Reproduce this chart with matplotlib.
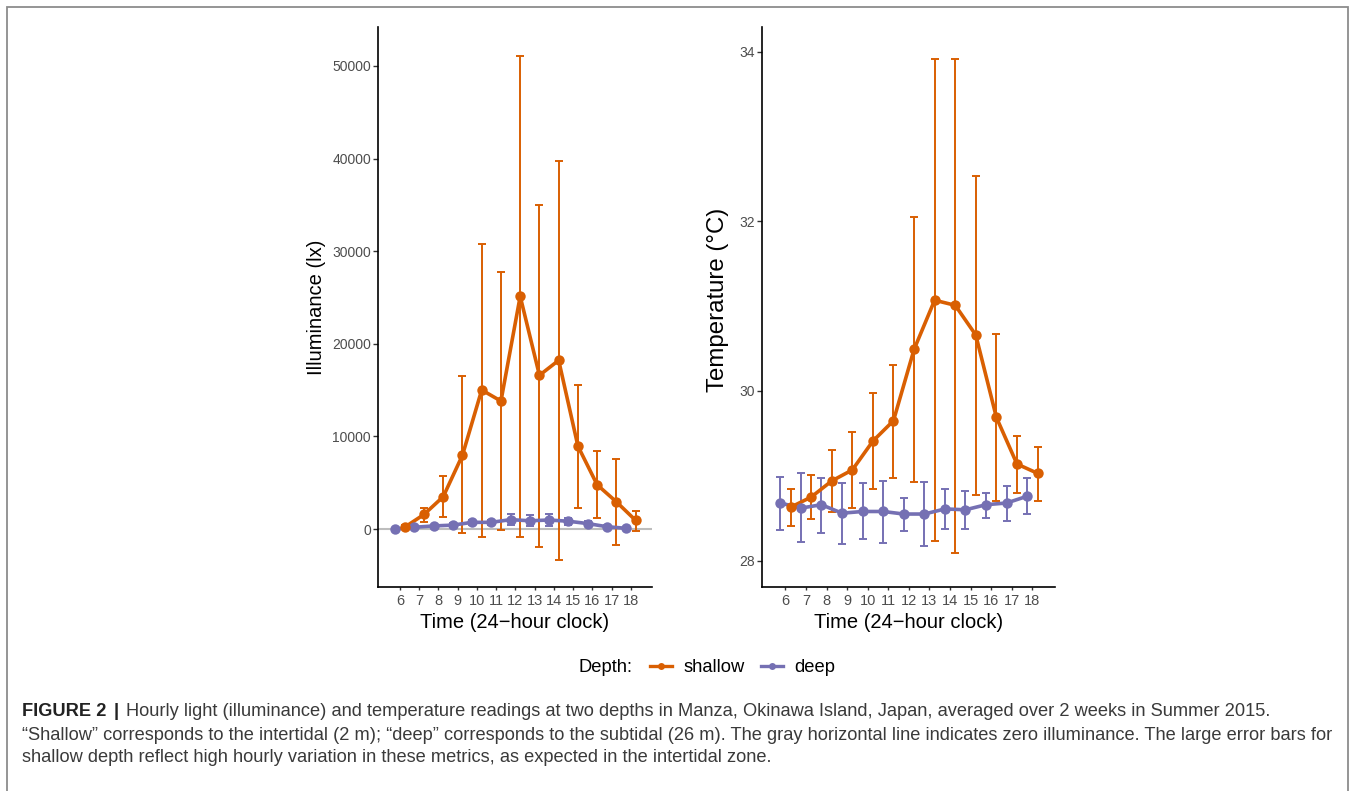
import numpy as np
import matplotlib
matplotlib.use("Agg")
import matplotlib.pyplot as plt
from matplotlib.lines import Line2D
from matplotlib.patches import Rectangle
from matplotlib import font_manager

plt.rcParams['font.family'] = ['Liberation Sans', 'DejaVu Sans']

# hours of the day (24-hour clock)
hours = [6, 7, 8, 9, 10, 11, 12, 13, 14, 15, 16, 17, 18]
hour_labels = [str(h) for h in hours]

# illuminance (lx), mean and error bar ends
lux_shallow = [210, 1580, 3500, 7980, 15020, 13820, 25130, 16600, 18220, 8960, 4780, 2940, 940]
lux_shallow_lo = [0, 725, 1280, -470, -810, -85, -810, -1920, -3330, 2300, 1150, -1700, -210]
lux_shallow_hi = [420, 2300, 5720, 16510, 30760, 27730, 51110, 34980, 39760, 15570, 8450, 7550, 2000]
lux_deep = [0, 200, 340, 430, 730, 730, 1020, 900, 980, 850, 600, 260, 85]
lux_deep_lo = [-30, 100, 190, 230, 480, 480, 470, 300, 380, 470, 350, 110, 35]
lux_deep_hi = [30, 300, 490, 630, 980, 980, 1580, 1490, 1580, 1240, 850, 410, 135]

# temperature (deg C), mean and error bar ends
temp_shallow = [28.63, 28.75, 28.94, 29.07, 29.41, 29.65, 30.49, 31.07, 31.01, 30.66, 29.69, 29.14, 29.03]
temp_shallow_lo = [28.41, 28.49, 28.57, 28.62, 28.85, 28.98, 28.93, 28.23, 28.09, 28.78, 28.70, 28.80, 28.70]
temp_shallow_hi = [28.85, 29.01, 29.31, 29.52, 29.98, 30.31, 32.05, 33.91, 33.91, 32.53, 30.67, 29.47, 29.34]
temp_deep = [28.68, 28.62, 28.66, 28.56, 28.58, 28.58, 28.55, 28.55, 28.61, 28.60, 28.66, 28.68, 28.76]
temp_deep_lo = [28.36, 28.22, 28.33, 28.20, 28.25, 28.21, 28.35, 28.17, 28.37, 28.37, 28.50, 28.47, 28.55]
temp_deep_hi = [28.99, 29.03, 28.97, 28.92, 28.92, 28.94, 28.74, 28.93, 28.84, 28.82, 28.80, 28.88, 28.97]

c_shallow = '#D95F02'
c_deep = '#7570B3'

W, H = 1356, 791
fig = plt.figure(figsize=(W / 100, H / 100), dpi=100)
ax1 = fig.add_axes([378 / W, 1 - 587 / H, 274 / W, 560 / H])
ax2 = fig.add_axes([762 / W, 1 - 587 / H, 293 / W, 560 / H])

x = np.array(hours, dtype=float)


def draw_panel(ax, deep, deep_lo, deep_hi, shal, shal_lo, shal_hi):
    groups = [(x - 0.25, deep, deep_lo, deep_hi, c_deep),
              (x + 0.25, shal, shal_lo, shal_hi, c_shallow)]
    for xs, m, lo, hi, c in groups:
        m = np.array(m)
        err = [m - np.array(lo), np.array(hi) - m]
        ax.errorbar(xs, m, yerr=err, fmt='none', ecolor=c, elinewidth=1.4,
                    capsize=3.2, capthick=1.4, zorder=2)
    for xs, m, lo, hi, c in groups:
        ax.plot(xs, m, color=c, lw=2.6, zorder=3, solid_capstyle='butt')
    for xs, m, lo, hi, c in groups:
        ax.plot(xs, m, 'o', color=c, ms=7.5, mec='none', zorder=4)
    ax.set_xticks(hours)
    ax.set_xticklabels(hour_labels)
    ax.set_xlim(4.86, 19.1)
    for s in ['top', 'right']:
        ax.spines[s].set_visible(False)
    for s in ['left', 'bottom']:
        ax.spines[s].set_linewidth(1.2)
        ax.spines[s].set_color('black')
    ax.tick_params(axis='y', length=3.5, width=1.0, pad=1.5, labelsize=10,
                   labelcolor='#4D4D4D', color='#333333')
    ax.tick_params(axis='x', length=2.5, width=1.0, pad=2.5, labelsize=10.5,
                   labelcolor='#4D4D4D', color='#333333')
    ax.set_xlabel('Time (24\u2212hour clock)', fontsize=14.5)
    ax.xaxis.label.set_va('center')
    ax.xaxis.set_label_coords(0.5, -0.0625)


# zero illuminance reference line
ax1.axhline(0, color='#BDBDBD', lw=1.5, zorder=1)
draw_panel(ax1, lux_deep, lux_deep_lo, lux_deep_hi,
           lux_shallow, lux_shallow_lo, lux_shallow_hi)
ax1.set_ylim(-6250, 54200)
ax1.set_yticks([0, 10000, 20000, 30000, 40000, 50000])
ax1.set_yticklabels(['0', '10000', '20000', '30000', '40000', '50000'])
ax1.set_ylabel('Illuminance (lx)', fontsize=14.5)
ax1.yaxis.label.set_va('center')
ax1.yaxis.set_label_coords((316 - 378) / 274, 0.5)

draw_panel(ax2, temp_deep, temp_deep_lo, temp_deep_hi,
           temp_shallow, temp_shallow_lo, temp_shallow_hi)
ax2.set_ylim(27.69, 34.29)
ax2.set_yticks([28, 30, 32, 34])
ax2.set_ylabel('Temperature (\u00b0C)', fontsize=17.3)
ax2.yaxis.label.set_va('center')
ax2.yaxis.set_label_coords((718 - 762) / 293, 0.512)

# legend along the bottom
fig.text(578 / W, 1 - 668 / H, 'Depth:', fontsize=13.2, va='center', ha='left')
handles = [Line2D([], [], color=c_shallow, lw=2.4, marker='o', ms=5, mec='none'),
           Line2D([], [], color=c_deep, lw=2.4, marker='o', ms=5, mec='none')]
fig.legend(handles, ['shallow', 'deep'], ncol=2, frameon=False, fontsize=13.2,
           loc='center left', bbox_to_anchor=(650 / W, 1 - 668 / H),
           handlelength=1.2, handletextpad=0.65, columnspacing=0.85,
           borderpad=0, borderaxespad=0)

# frame around the figure
fig.add_artist(Rectangle((7 / W, -0.05), (1348 - 7) / W, 1.05 - 7 / H,
                         transform=fig.transFigure, fill=False,
                         edgecolor='#8C8C8C', lw=1.3))

# caption (condensed face if there is one)
try:
    font_manager.findfont('Liberation Sans Narrow', fallback_to_default=False)
    cap_font = ['Liberation Sans Narrow', 'DejaVu Sans']
except Exception:
    cap_font = ['Liberation Sans', 'DejaVu Sans']
cap_color = '#3A3A3A'
line1 = ('Hourly light (illuminance) and temperature readings at two depths in Manza, '
         'Okinawa Island, Japan, averaged over 2 weeks in Summer 2015.')
line2 = ('\u201cShallow\u201d corresponds to the intertidal (2 m); \u201cdeep\u201d corresponds '
         'to the subtidal (26 m). The gray horizontal line indicates zero illuminance. '
         'The large error bars for')
line3 = ('shallow depth reflect high hourly variation in these metrics, as expected in '
         'the intertidal zone.')

fig.canvas.draw()
r = fig.canvas.get_renderer()
probe = fig.text(0, 0, line2, fontsize=12, family=cap_font)
w12 = probe.get_window_extent(r).width
probe.remove()
cap_size = 12 * (1338 - 22) / w12

y1 = 1 - 711 / H
t1 = fig.text(22 / W, y1, 'FIGURE 2', fontsize=cap_size, weight='bold',
              family=cap_font, color='#222222', va='center')
bb = t1.get_window_extent(r)
t2 = fig.text((bb.x1 + 7) / W, y1, '|', fontsize=cap_size, weight='bold',
              family=cap_font, color='#222222', va='center')
bb2 = t2.get_window_extent(r)
fig.text((bb2.x1 + 7) / W, y1, line1,
         fontsize=cap_size, family=cap_font, color=cap_color, va='center')
fig.text(22 / W, 1 - 735 / H, line2,
         fontsize=cap_size, family=cap_font, color=cap_color, va='center')
fig.text(22 / W, 1 - 758 / H, line3,
         fontsize=cap_size, family=cap_font, color=cap_color, va='center')

fig.savefig('out.png', dpi=100)
